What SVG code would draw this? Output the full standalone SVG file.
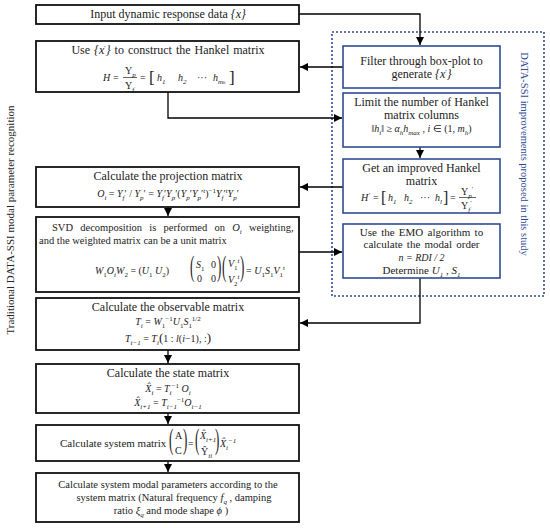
<svg xmlns="http://www.w3.org/2000/svg" width="550" height="528" viewBox="0 0 550 528">
<defs>
<marker id="ah" markerWidth="8" markerHeight="8" refX="8" refY="4" orient="auto" markerUnits="userSpaceOnUse">
<path d="M0,0 L8,4 L0,8 Z" fill="#000"/>
</marker>
<style>
text{font-family:"Liberation Serif","Times New Roman",serif;font-size:12px;fill:#222}
.c{text-anchor:middle}
.i{font-style:italic}
.s{font-size:7px;baseline-shift:-2.5px}
.p{font-size:7px;baseline-shift:4px}
.f{font-size:10px}
.m{font-size:10.5px}
.e{font-size:11px}
.bx{fill:#fff;stroke:#111;stroke-width:1.8}
.bb{fill:#fff;stroke:#2f4c93;stroke-width:1.6}
.ln{fill:none;stroke:#000;stroke-width:1.3}
.bl{fill:#2f4c93}
</style>
</defs>
<rect width="550" height="528" fill="#fff"/>

<rect x="332" y="32" width="212" height="264" fill="none" stroke="#2f4c93" stroke-width="1.6" stroke-dasharray="2 2"/>

<g id="connectors">
<path class="ln" d="M299,14 H420 V45" marker-end="url(#ah)"/>
<path class="ln" d="M343,67 H300" marker-end="url(#ah)"/>
<path class="ln" d="M168,92 V118 H342" marker-end="url(#ah)"/>
<path class="ln" d="M420,147 V158" marker-end="url(#ah)"/>
<path class="ln" d="M343,187 H300" marker-end="url(#ah)"/>
<path class="ln" d="M168,207 V216" marker-end="url(#ah)"/>
<path class="ln" d="M299,252 H342" marker-end="url(#ah)"/>
<path class="ln" d="M420,278 V323 H300" marker-end="url(#ah)"/>
<path class="ln" d="M168,350 V363" marker-end="url(#ah)"/>
<path class="ln" d="M168,413 V424" marker-end="url(#ah)"/>
<path class="ln" d="M168,461 V472" marker-end="url(#ah)"/>
</g>

<g id="input">
<rect class="bx" x="36" y="5" width="263" height="19"/>
<text class="c" x="168" y="18">Input dynamic response data <tspan class="i">{x}</tspan></text>
</g>

<g id="hankel">
<rect class="bx" x="36" y="41" width="263" height="51"/>
<text class="c" x="168" y="54" style="word-spacing:1px">Use  <tspan class="i">{x</tspan><tspan class="p">′</tspan><tspan class="i">}</tspan>  to construct the Hankel matrix</text>
<text class="i f" x="103" y="81">H</text>
<text class="f" x="113" y="81">=</text>
<text class="f" x="125" y="74">Y<tspan class="s i">p</tspan></text>
<line x1="123" y1="77.5" x2="137" y2="77.5" stroke="#222" stroke-width="0.7"/>
<text class="f" x="125" y="89">Y<tspan class="s i">f</tspan></text>
<text class="f" x="140" y="81">=</text>
<text x="149" y="83" style="font-size:17px">[</text>
<text class="i f" x="157" y="81">h<tspan class="s">1</tspan></text>
<text class="i f" x="178" y="81">h<tspan class="s">2</tspan></text>
<text class="f" x="197" y="81">···</text>
<text class="i f" x="213" y="81">h<tspan class="s">m<tspan style="font-size:5px">h</tspan></tspan></text>
<text x="229" y="83" style="font-size:17px">]</text>
</g>

<g id="filter">
<rect class="bb" x="343" y="46" width="157" height="42"/>
<text class="c" x="421.5" y="65">Filter through box-plot to</text>
<text class="c" x="421.5" y="78">generate <tspan class="i">{x</tspan><tspan class="p">′</tspan><tspan class="i">}</tspan></text>
</g>

<g id="limit">
<rect class="bb" x="343" y="93" width="157" height="54"/>
<text class="c" x="421.5" y="106">Limit the number of Hankel</text>
<text class="c" x="421.5" y="119">matrix columns</text>
<text class="c f" x="421.5" y="132">‖<tspan class="i">h<tspan class="s">i</tspan></tspan>‖ ≥ <tspan class="i">α<tspan class="s">h</tspan>h<tspan class="s">max</tspan></tspan> , <tspan class="i">i</tspan> ∈ (1, <tspan class="i">m<tspan class="s">h</tspan></tspan>)</text>
</g>

<g id="improved">
<rect class="bb" x="343" y="159" width="157" height="54"/>
<text class="c" x="421.5" y="172">Get an improved Hankel</text>
<text class="c" x="421.5" y="185">matrix</text>
<text class="i f" x="361" y="201">H<tspan class="p">′</tspan></text>
<text class="f" x="373" y="201">=</text>
<text x="381" y="203" style="font-size:16px">[</text>
<text class="i f" x="388" y="201">h<tspan class="s">1</tspan></text>
<text class="i f" x="404" y="201">h<tspan class="s">2</tspan></text>
<text class="f" x="420" y="201">···</text>
<text class="i f" x="435" y="201">h<tspan class="s">l</tspan></text>
<text x="443" y="203" style="font-size:16px">]</text>
<text class="f" x="450" y="201">=</text>
<text class="f" x="461" y="195">Y<tspan class="s i">p</tspan><tspan class="p">′</tspan></text>
<line x1="459" y1="197.5" x2="476" y2="197.5" stroke="#222" stroke-width="0.7"/>
<text class="f" x="461" y="209">Y<tspan class="s i">f</tspan><tspan class="p">′</tspan></text>
</g>

<g id="projection">
<rect class="bx" x="36" y="167" width="263" height="40"/>
<text class="c" x="168" y="180">Calculate the projection matrix</text>
<text class="c f" x="168" y="197"><tspan class="i">O<tspan class="s">i</tspan></tspan> = <tspan class="i">Y<tspan class="s">f</tspan></tspan>′ / <tspan class="i">Y<tspan class="s">p</tspan></tspan>′ = <tspan class="i">Y<tspan class="s">f</tspan></tspan>′<tspan class="i">Y<tspan class="s">p</tspan></tspan>′(<tspan class="i">Y<tspan class="s">p</tspan></tspan>′<tspan class="i">Y<tspan class="s">p</tspan></tspan>′<tspan class="p">t</tspan>)<tspan class="p">−1</tspan><tspan class="i">Y<tspan class="s">f</tspan></tspan>′<tspan class="p">t</tspan><tspan class="i">Y<tspan class="s">p</tspan></tspan>′</text>
</g>

<g id="svd">
<rect class="bx" x="36" y="217" width="263" height="75"/>
<text class="m" x="52" y="231" style="word-spacing:4.6px">SVD decomposition is performed on <tspan class="i">O<tspan class="s">i</tspan></tspan> weighting,</text>
<text class="m" x="39" y="244">and the weighted matrix can be a unit matrix</text>
<text class="f" x="95" y="274"><tspan class="i">W</tspan><tspan class="s">1</tspan><tspan class="i">O<tspan class="s">i</tspan>W</tspan><tspan class="s">2</tspan> = (<tspan class="i">U</tspan><tspan class="s">1</tspan>    <tspan class="i">U</tspan><tspan class="s">2</tspan>)</text>
<text transform="translate(190,276) scale(1,2.3)" style="font-size:13px">(</text>
<text class="f i" x="196" y="268">S<tspan class="s" style="font-style:normal">1</tspan></text>
<text class="f" x="211" y="268">0</text>
<text class="f" x="197" y="282">0</text>
<text class="f" x="211" y="282">0</text>
<text transform="translate(217,276) scale(1,2.3)" style="font-size:13px">)</text>
<text transform="translate(222,276) scale(1,2.3)" style="font-size:13px">(</text>
<text class="f i" x="228" y="267">V<tspan class="s" style="font-style:normal">1</tspan><tspan class="p">t</tspan></text>
<text class="f i" x="228" y="283">V<tspan class="s" style="font-style:normal">2</tspan><tspan class="p">t</tspan></text>
<text transform="translate(240,276) scale(1,2.3)" style="font-size:13px">)</text>
<text class="f" x="246" y="274">= <tspan class="i">U</tspan><tspan class="s">1</tspan><tspan class="i">S</tspan><tspan class="s">1</tspan><tspan class="i">V</tspan><tspan class="s">1</tspan><tspan class="p">t</tspan></text>
</g>

<g id="emo">
<rect class="bb" x="343" y="224" width="157" height="54"/>
<text class="c e" x="421.5" y="235.5" style="word-spacing:1.5px">Use the EMO algorithm to</text>
<text class="c e" x="421.5" y="248" style="word-spacing:1.5px">calculate the modal order</text>
<text class="c f i" x="421.5" y="260.5">n = RDI / 2</text>
<text class="c e" x="421.5" y="274">Determine <tspan class="i">U<tspan class="s">1</tspan></tspan> , <tspan class="i">S<tspan class="s">1</tspan></tspan></text>
</g>

<g id="observable">
<rect class="bx" x="36" y="298" width="263" height="52"/>
<text class="c" x="168" y="311">Calculate the observable matrix</text>
<text class="c f" x="168" y="325"><tspan class="i">T<tspan class="s">i</tspan></tspan> = <tspan class="i">W</tspan><tspan class="s">1</tspan><tspan class="p">−1</tspan><tspan class="i">U</tspan><tspan class="s">1</tspan><tspan class="i">S</tspan><tspan class="s">1</tspan><tspan class="p">1/2</tspan></text>
<text class="c f" x="168" y="342"><tspan class="i">T<tspan class="s">i−1</tspan></tspan> = <tspan class="i">T<tspan class="s">i</tspan></tspan><tspan style="font-size:13px">(</tspan>1 : <tspan class="i">l</tspan>(<tspan class="i">i</tspan>−1), :<tspan style="font-size:13px">)</tspan></text>
</g>

<g id="state">
<rect class="bx" x="36" y="364" width="263" height="49"/>
<text class="c" x="168" y="377">Calculate the state matrix</text>
<text class="c f" x="168" y="392"><tspan class="i">X̂<tspan class="s">i</tspan></tspan> = <tspan class="i">T<tspan class="s">i</tspan></tspan><tspan class="p">−1</tspan> <tspan class="i">O<tspan class="s">i</tspan></tspan></text>
<text class="c f" x="168" y="406"><tspan class="i">X̂<tspan class="s">i+1</tspan></tspan> = <tspan class="i">T<tspan class="s">i−1</tspan></tspan><tspan class="p">−1</tspan><tspan class="i">O<tspan class="s">i−1</tspan></tspan></text>
</g>

<g id="system">
<rect class="bx" x="36" y="425" width="263" height="36"/>
<text x="60" y="447" style="font-size:11px">Calculate system matrix</text>
<text transform="translate(169,449) scale(1,2.2)" style="font-size:13px">(</text>
<text class="f" x="175" y="439">A</text>
<text class="f" x="175" y="454">C</text>
<text transform="translate(183,449) scale(1,2.2)" style="font-size:13px">)</text>
<text class="f" x="188" y="447">=</text>
<text transform="translate(195,449) scale(1,2.2)" style="font-size:13px">(</text>
<text class="f i" x="200" y="439">X̂<tspan class="s">i+1</tspan></text>
<text class="f" x="201" y="455">Ŷ<tspan class="s i">ii</tspan></text>
<text transform="translate(215,449) scale(1,2.2)" style="font-size:13px">)</text>
<text class="f i" x="220" y="447">X̂<tspan class="s">i</tspan><tspan class="p">−1</tspan></text>
</g>

<g id="modal">
<rect class="bx" x="36" y="473" width="263" height="49"/>
<text class="c m" x="168" y="488">Calculate system modal parameters according to the</text>
<text class="c m" x="174" y="501">system matrix (Natural frequency <tspan class="i">f<tspan class="s">q</tspan></tspan> , damping</text>
<text class="c m" x="171" y="514">ratio <tspan class="i">ξ<tspan class="s">q</tspan></tspan> and mode shape <tspan class="i">ϕ</tspan> )</text>
</g>

<text class="c" transform="translate(14,220) rotate(-90)" style="font-size:11px">Traditional DATA-SSI modal parameter recognition</text>
<text class="c bl" transform="translate(521,154) rotate(90)" style="font-size:10.5px">DATA-SSI improvements proposed in this study</text>
</svg>
